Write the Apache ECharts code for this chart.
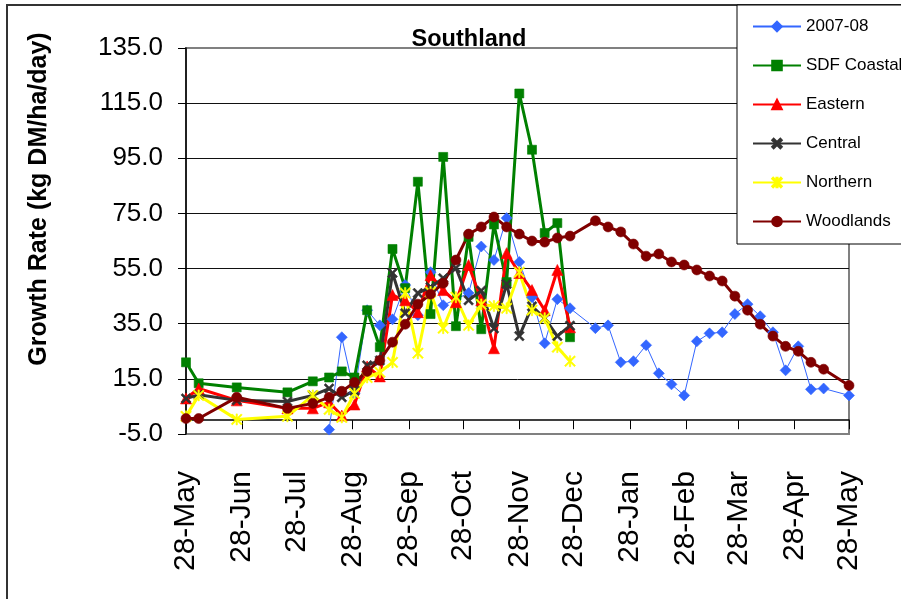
<!DOCTYPE html>
<html>
<head>
<meta charset="utf-8">
<script src="https://cdn.jsdelivr.net/npm/echarts@6.0.0/dist/echarts.min.js"></script>
<style>
  html, body { margin: 0; padding: 0; background: #fff; }
  #chart { width: 901px; height: 599px; }
</style>
</head>
<body>
<div id="chart"></div>
<script>
// regional series share the same sample dates
const regionDates = ['2007-05-28', '2007-06-04', '2007-06-25', '2007-07-23', '2007-08-06',
  '2007-08-15', '2007-08-22', '2007-08-29', '2007-09-05', '2007-09-12', '2007-09-19',
  '2007-09-26', '2007-10-03', '2007-10-10', '2007-10-17', '2007-10-24', '2007-10-31',
  '2007-11-07', '2007-11-14', '2007-11-21', '2007-11-28', '2007-12-05', '2007-12-12',
  '2007-12-19', '2007-12-26'];
const sdfCoastal = [21.0, 13.4, 11.9, 10.1, 14.1, 15.5, 17.7, 15.5, 39.9, 26.5, 62.1, 47.9,
  86.5, 38.5, 95.5, 34.1, 66.5, 33.0, 71.0, 50.1, 118.5, 98.1, 67.9, 71.5, 30.1];
const eastern = [7.9, 11.5, 7.2, 4.3, 4.3, 6.5, 1.7, 5.7, 19.5, 15.9, 45.4, 43.5,
  39.2, 52.6, 47.2, 42.8, 56.3, 43.5, 26.1, 60.6, 53.4, 47.2, 39.9, 54.5, 33.7];
const central = [7.9, 9.2, 7.2, 6.8, 9.0, 11.5, 8.3, 10.8, 19.9, 21.7, 53.4, 38.8,
  46.1, 48.3, 51.5, 55.2, 43.5, 47.0, 33.3, 49.4, 30.5, 41.3, 37.0, 30.5, 34.3];
const northern = [1.4, 9.0, 0.3, 1.4, 9.0, 3.9, 1.0, 9.7, 15.5, 17.4, 21.0, 46.1,
  24.3, 46.5, 33.4, 44.6, 34.4, 42.0, 41.4, 40.6, 53.7, 39.9, 37.0, 26.5, 21.4];

// spring 2008 dates used by 2007-08 and Woodlands
const laterDates = ['2008-01-09', '2008-01-16', '2008-01-23', '2008-01-30', '2008-02-06',
  '2008-02-13', '2008-02-20', '2008-02-27', '2008-03-05', '2008-03-12', '2008-03-19',
  '2008-03-26', '2008-04-02', '2008-04-09', '2008-04-16', '2008-04-23', '2008-04-30',
  '2008-05-07', '2008-05-14', '2008-05-28'];
const woodlandsDates = regionDates.concat(laterDates);
const woodlands = [0.6, 0.6, 8.3, 4.3, 6.1, 8.3, 10.5, 13.7, 17.7, 21.7, 28.3, 34.8,
  42.1, 45.7, 49.7, 58.1, 67.5, 70.1, 73.7, 70.1, 67.5, 65.0, 64.6, 66.1, 66.8,
  72.3, 70.1, 68.3, 63.9, 59.5, 60.3, 57.4, 56.3, 54.5, 52.3, 50.5, 45.0, 39.9,
  34.8, 30.5, 26.8, 25.0, 21.0, 18.5, 12.6];

const season0708Dates = ['2007-08-15', '2007-08-22', '2007-08-29', '2007-09-05', '2007-09-12',
  '2007-09-19', '2007-09-26', '2007-10-03', '2007-10-10', '2007-10-17', '2007-10-31',
  '2007-11-07', '2007-11-14', '2007-11-21', '2007-11-28', '2007-12-05', '2007-12-12',
  '2007-12-19', '2007-12-26'].concat(laterDates);
const season0708 = [-3.4, 30.1, 9.7, 39.9, 34.4, 36.6, 49.0, 38.1, 53.7, 41.7, 46.1,
  63.0, 58.1, 73.3, 57.4, 44.6, 27.9, 43.9, 40.6,
  33.4, 34.4, 21.0, 21.4, 27.2, 17.0, 13.0, 9.0, 28.6, 31.5, 31.9, 38.5, 42.1,
  37.7, 31.9, 18.1, 26.8, 11.2, 11.5, 9.0];

const tickDates = ['2007-05-28', '2007-06-28', '2007-07-28', '2007-08-28', '2007-09-28',
  '2007-10-28', '2007-11-28', '2007-12-28', '2008-01-28', '2008-02-28', '2008-03-28',
  '2008-04-28', '2008-05-28'];
const tickLabels = ['28-May', '28-Jun', '28-Jul', '28-Aug', '28-Sep', '28-Oct', '28-Nov',
  '28-Dec', '28-Jan', '28-Feb', '28-Mar', '28-Apr', '28-May'];

const FONT = '"Liberation Sans", Arial, sans-serif';

// date string -> timestamp (the x axis is a plain value axis in ms)
function ts(s) {
  const p = s.split('-').map(Number);
  return Date.UTC(p[0], p[1] - 1, p[2]);
}
const tickTs = tickDates.map(ts);

function pairs(dates, vals) {
  return dates.map((d, i) => [ts(d), vals[i]]);
}

const xMark = 'path://M0,1.5 L1.5,0 L5,3.5 L8.5,0 L10,1.5 L6.5,5 L10,8.5 L8.5,10 L5,6.5 L1.5,10 L0,8.5 L3.5,5 Z';
const starMark = 'path://M0,1 L1,0 L5,4 L9,0 L10,1 L6,5 L10,9 L9,10 L5,6 L1,10 L0,9 L4,5 Z M4.4,0 L5.6,0 L5.6,10 L4.4,10 Z';

function lineSeries(name, data, color, width, symbol, size) {
  return {
    name: name,
    type: 'line',
    data: data,
    symbol: symbol,
    symbolSize: size,
    showSymbol: true,
    animation: false,
    lineStyle: { color: color, width: width },
    itemStyle: { color: color, borderColor: color, borderWidth: 0.6 }
  };
}

const chart = echarts.init(document.getElementById('chart'));
chart.setOption({
  backgroundColor: '#fff',
  animation: false,
  title: {
    text: 'Southland',
    left: 464,
    textAlign: 'center',
    top: 23,
    textStyle: { fontFamily: FONT, fontWeight: 'bold', fontSize: 23.5, color: '#000' }
  },
  legend: {
    orient: 'vertical',
    left: 747,
    top: 13,
    itemWidth: 48,
    itemHeight: 12,
    itemGap: 22,
    z: 10,
    textStyle: { fontFamily: FONT, fontSize: 17, color: '#000' },
    data: ['2007-08', 'SDF Coastal', 'Eastern', 'Central', 'Northern', 'Woodlands']
  },
  grid: {
    left: 186, right: 52, top: 48, bottom: 165,
    show: true,
    borderColor: '#808080',
    borderWidth: 2
  },
  xAxis: {
    type: 'value',
    min: ts('2007-05-28'),
    max: ts('2008-05-28'),
    axisLine: { onZero: true, lineStyle: { color: '#000', width: 1.5 } },
    axisTick: { show: true, customValues: tickTs, length: 9, lineStyle: { color: '#000' } },
    axisLabel: {
      customValues: tickTs,
      rotate: 90,
      margin: 37,
      color: '#000',
      fontFamily: FONT,
      fontSize: 30,
      formatter: function (v) {
        const i = tickTs.indexOf(v);
        return i >= 0 ? tickLabels[i] : '';
      }
    },
    splitLine: { show: false }
  },
  yAxis: {
    type: 'value',
    min: -5,
    max: 135,
    interval: 20,
    axisLine: { show: true, onZero: false, lineStyle: { color: '#000', width: 1.5 } },
    axisTick: { show: true, length: 8, lineStyle: { color: '#000' } },
    axisLabel: {
      margin: 23,
      color: '#000',
      fontFamily: FONT,
      fontSize: 26,
      formatter: v => v.toFixed(1)
    },
    splitLine: {
      show: true, showMinLine: false, showMaxLine: false,
      lineStyle: { color: '#111', width: 1 }
    }
  },
  graphic: [
    {
      type: 'rect', z: 0, silent: true,
      shape: { x: 7, y: 5, width: 2000, height: 2000 },
      style: { fill: 'none', stroke: '#333', lineWidth: 2 }
    },
    {
      type: 'rect', z: 3, silent: true,
      shape: { x: 737, y: 5, width: 300, height: 239 },
      style: { fill: '#fff', stroke: '#000', lineWidth: 1 }
    },
    {
      type: 'text', z: 3, silent: true,
      x: 39, y: 199, rotation: Math.PI / 2,
      style: {
        text: 'Growth Rate (kg DM/ha/day)',
        font: 'bold 25px ' + FONT,
        fill: '#000',
        textAlign: 'center',
        textVerticalAlign: 'middle'
      }
    }
  ],
  series: [
    lineSeries('2007-08', pairs(season0708Dates, season0708), '#3366FF', 1, 'diamond', 11),
    lineSeries('SDF Coastal', pairs(regionDates, sdfCoastal), '#008000', 3, 'rect', 9),
    lineSeries('Eastern', pairs(regionDates, eastern), '#FF0000', 3, 'triangle', 11),
    lineSeries('Central', pairs(regionDates, central), '#333333', 3, xMark, 10),
    lineSeries('Northern', pairs(regionDates, northern), '#FFFF00', 3, starMark, 11),
    lineSeries('Woodlands', pairs(woodlandsDates, woodlands), '#800000', 3, 'circle', 10)
  ]
});
</script>
</body>
</html>
